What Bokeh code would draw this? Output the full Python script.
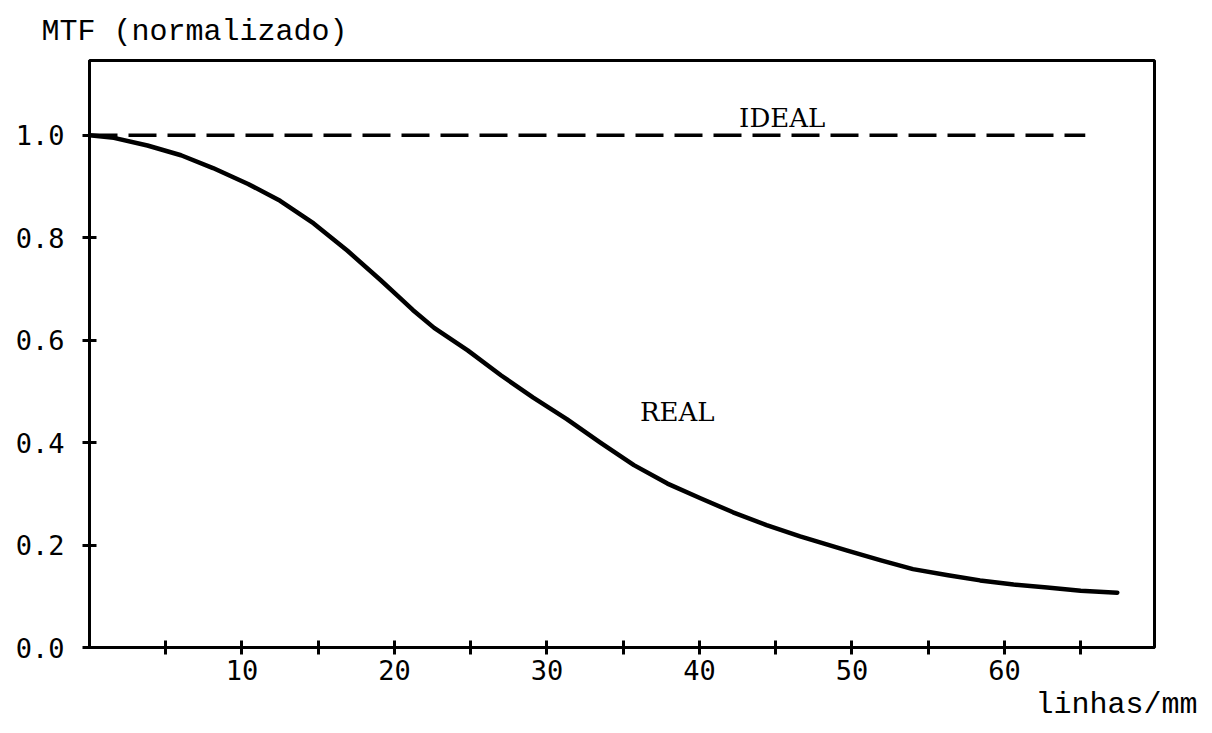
from bokeh.plotting import figure
from bokeh.models import Label, FixedTicker, Title
from bokeh.embed import file_html
from bokeh.resources import INLINE

# ---- data ----
freq = [0, 1.6, 3.8, 6.0, 8.1, 10.4, 12.5, 14.7, 16.9, 19.1, 20.3, 21.2, 22.6,
        24.8, 27.0, 29.1, 31.3, 33.5, 35.7, 37.9, 40.1, 42.2, 44.4, 46.6, 49.7,
        51.9, 54.0, 56.3, 58.4, 60.6, 62.8, 65.0, 67.4]
mtf_real = [1.0, 0.995, 0.980, 0.961, 0.936, 0.905, 0.872, 0.828, 0.775, 0.717,
            0.684, 0.659, 0.624, 0.580, 0.531, 0.488, 0.446, 0.400, 0.356, 0.320,
            0.291, 0.264, 0.239, 0.217, 0.189, 0.170, 0.153, 0.141, 0.131, 0.123,
            0.117, 0.111, 0.107]
ideal_x = [0, 65.3]
ideal_y = [1.0, 1.0]

x_ticks = [5, 10, 15, 20, 25, 30, 35, 40, 45, 50, 55, 60, 65]
x_tick_labels = {5: "", 10: "10", 15: "", 20: "20", 25: "", 30: "30", 35: "",
                 40: "40", 45: "", 50: "50", 55: "", 60: "60", 65: ""}
y_ticks = [0.0, 0.2, 0.4, 0.6, 0.8, 1.0]
y_tick_labels = ["0.0", "0.2", "0.4", "0.6", "0.8", "1.0"]

title_text = "MTF (normalizado)"
xlabel_text = "linhas/mm"
ideal_text = "IDEAL"
real_text = "REAL"

MONO = "Liberation Mono"
SERIF = "DejaVu Serif"
SANS_MONO = "DejaVu Sans Mono"

p = figure(width=1212, height=733, x_range=(0, 69.84), y_range=(0, 1.146),
           output_backend="svg", toolbar_location=None,
           min_border_left=89, min_border_right=58, min_border_top=60,
           min_border_bottom=86)

p.background_fill_color = "white"
p.border_fill_color = "white"
p.outline_line_color = "black"
p.outline_line_width = 3
p.xgrid.visible = False
p.ygrid.visible = False

p.title.text = title_text
p.title.align = "left"
p.title.offset = -48
p.title.text_font = MONO
p.title.text_font_size = "30px"
p.title.text_font_style = "normal"
p.title.text_color = "black"
p.title.standoff = 24

for ax in (p.xaxis[0], p.yaxis[0]):
    ax.axis_line_width = 3
    ax.axis_line_color = "black"
    ax.major_tick_line_width = 3
    ax.major_tick_line_color = "black"
    ax.major_tick_in = 7
    ax.major_tick_out = 7
    ax.minor_tick_line_color = None
    ax.major_label_text_font = SANS_MONO
    ax.major_label_text_font_size = "27px"
    ax.major_label_text_color = "black"

p.xaxis[0].ticker = FixedTicker(ticks=x_ticks)
p.xaxis[0].major_label_overrides = {k: v for k, v in x_tick_labels.items()}
p.xaxis[0].major_label_standoff = 5

p.yaxis[0].ticker = FixedTicker(ticks=y_ticks)
p.yaxis[0].major_label_overrides = {t: s for t, s in zip(y_ticks, y_tick_labels)}
p.yaxis[0].major_label_standoff = 18

p.add_layout(Title(text=xlabel_text, align="right", offset=-43,
                   text_font=MONO, text_font_size="30px",
                   text_font_style="normal", text_color="black", standoff=6),
             "below")

p.line(ideal_x, ideal_y, line_color="black", line_width=3.5, line_dash="28 11")
p.line(freq, mtf_real, line_color="black", line_width=4.5, line_join="round",
       line_cap="round")

p.add_layout(Label(x=36.1, y=0.459, text=real_text, text_font=SERIF,
                   text_font_size="26px", text_color="black",
                   text_baseline="middle"))
p.add_layout(Label(x=42.6, y=1.033, text=ideal_text, text_font=SERIF,
                   text_font_size="26px", text_color="black",
                   text_baseline="middle"))

open("out.html", "w").write(file_html(p, INLINE))
